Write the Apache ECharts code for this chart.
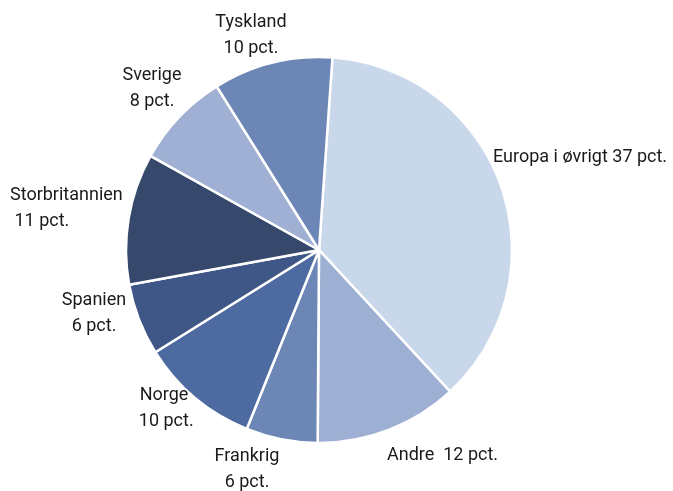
<!DOCTYPE html>
<html>
<head>
<meta charset="utf-8">
<script src="https://cdn.jsdelivr.net/npm/echarts@6/dist/echarts.min.js"></script>
<style>
html, body { margin: 0; padding: 0; background: #fff; }
#main { width: 673px; height: 491px; }
</style>
</head>
<body>
<div id="main"></div>
<script>
// data, clockwise from top
var names = ['Europa i øvrigt', 'Andre', 'Frankrig', 'Norge', 'Spanien', 'Storbritannien', 'Sverige', 'Tyskland'];
var values = [37, 12, 6, 10, 6, 11, 8, 10];
var labelTexts = ['Europa i øvrigt 37 pct.', 'Andre  12 pct.', 'Frankrig\n6 pct.', 'Norge\n 10 pct.',
                  'Spanien\n6 pct.', 'Storbritannien\n 11 pct.', 'Sverige\n8 pct.', 'Tyskland\n10 pct.'];
var colors = ['#c8d7ea', '#9db0d4', '#6c86b6', '#4d6aa1', '#3f5787', '#36496d', '#9fb0d4', '#6c86b6'];

// where each label sits (x, y, align)
var labelPos = [
    [493, 157, 'left'],
    [387, 455, 'left'],
    [247, 469, 'center'],
    [164, 408, 'center'],
    [94, 313, 'center'],
    [10, 208, 'left'],
    [152, 88, 'center'],
    [251, 35, 'center']
];

var myChart = echarts.init(document.getElementById('main'));

var data = [];
for (var i = 0; i < names.length; i++) {
    data.push({
        name: names[i],
        value: values[i],
        itemStyle: { color: colors[i] },
        label: { formatter: labelTexts[i] }
    });
}

var option = {
    animation: false,
    series: [
        {
            type: 'pie',
            center: [319, 250],
            radius: 193,
            startAngle: 86,
            clockwise: true,
            itemStyle: { borderColor: '#fff', borderWidth: 2.5 },
            label: {
                show: true,
                position: 'outside',
                color: '#1a1a1a',
                fontSize: 18,
                fontFamily: 'Roboto, sans-serif',
                lineHeight: 26,
                overflow: 'none'
            },
            labelLine: { show: false },
            labelLayout: function (params) {
                var p = labelPos[params.dataIndex];
                return { x: p[0], y: p[1], align: p[2], verticalAlign: 'middle', hideOverlap: false };
            },
            data: data
        }
    ]
};
myChart.setOption(option);
</script>
</body>
</html>
